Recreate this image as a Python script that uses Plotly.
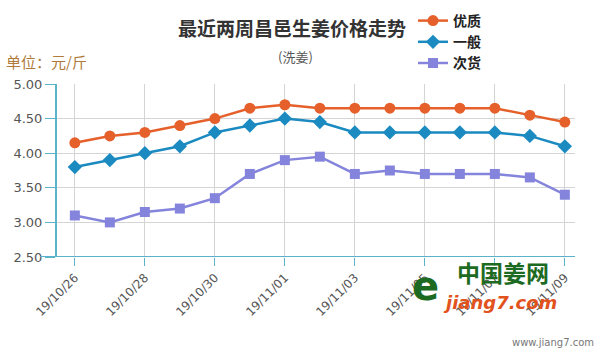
import plotly.graph_objects as go

dates = ["19/10/26", "19/10/27", "19/10/28", "19/10/29", "19/10/30", "19/10/31",
         "19/11/01", "19/11/02", "19/11/03", "19/11/04", "19/11/05", "19/11/06",
         "19/11/07", "19/11/08", "19/11/09"]
good = [4.15, 4.25, 4.30, 4.40, 4.50, 4.65, 4.70, 4.65, 4.65, 4.65, 4.65, 4.65, 4.65, 4.55, 4.45]
normal = [3.80, 3.90, 4.00, 4.10, 4.30, 4.40, 4.50, 4.45, 4.30, 4.30, 4.30, 4.30, 4.30, 4.25, 4.10]
poor = [3.10, 3.00, 3.15, 3.20, 3.35, 3.70, 3.90, 3.95, 3.70, 3.75, 3.70, 3.70, 3.70, 3.65, 3.40]
names = ["优质", "一般", "次货"]
yticks = [2.5, 3.0, 3.5, 4.0, 4.5, 5.0]

W, H = 601, 351
L, R, T, B = 57, 26, 84, 94
PW, PH = W - L - R, H - T - B


def px(xp):
    return (xp - L) / PW


def py(yp):
    return (H - B - yp) / PH


cjk = "Noto Sans CJK SC"
fig = go.Figure()
idx = list(range(len(dates)))
fig.add_trace(go.Scatter(x=idx, y=good, name=names[0], mode="lines+markers",
                         line=dict(color="#e5602b", width=2.5),
                         marker=dict(symbol="circle", size=11, color="#e5602b")))
fig.add_trace(go.Scatter(x=idx, y=normal, name=names[1], mode="lines+markers",
                         line=dict(color="#1a8ac0", width=2.5),
                         marker=dict(symbol="diamond", size=11, color="#1a8ac0")))
fig.add_trace(go.Scatter(x=idx, y=poor, name=names[2], mode="lines+markers",
                         line=dict(color="#8484dc", width=2.5),
                         marker=dict(symbol="square", size=10, color="#8484dc")))

fig.update_layout(
    width=W, height=H,
    margin=dict(l=L, r=R, t=T, b=B, autoexpand=False),
    paper_bgcolor="white", plot_bgcolor="white",
    showlegend=True,
    legend=dict(x=px(413), y=py(5), xref="paper", yref="paper",
                xanchor="left", yanchor="top",
                font=dict(family=cjk, size=14, color="#222", weight="bold"),
                itemwidth=30, tracegroupgap=0, bgcolor="rgba(0,0,0,0)"),
    font=dict(family="DejaVu Sans", color="#555"),
)
fig.update_xaxes(
    range=[-0.51, 14.29],
    tickmode="array", tickvals=idx[::2], ticktext=dates[::2],
    tickangle=-45, tickfont=dict(size=12, color="#555"),
    showgrid=True, gridcolor="#d4d4d4", gridwidth=1,
    showline=False, ticks="outside", ticklen=8, tickcolor="#5bb3c9",
    zeroline=False,
)
fig.update_yaxes(
    range=[2.5, 5.0], tickvals=yticks, ticktext=[f"{v:.2f}" for v in yticks],
    tickfont=dict(size=13, color="#555"),
    showgrid=True, gridcolor="#d4d4d4", gridwidth=1,
    showline=True, linecolor="#5bb3c9", linewidth=2,
    ticks="outside", ticklen=10, tickcolor="#5bb3c9",
    zeroline=False,
)
# x axis line extended to the left of the y axis
fig.add_shape(type="line", xref="paper", yref="y", x0=px(40), x1=1.0, y0=2.5, y1=2.5,
              line=dict(color="#5bb3c9", width=2))


def note(text, x, y, size, color, family=cjk, anchor="center"):
    fig.add_annotation(text=text, x=px(x), y=py(y), xref="paper", yref="paper",
                       xanchor=anchor, yanchor="middle", showarrow=False,
                       font=dict(family=family, size=size, color=color))


note("<b>最近两周昌邑生姜价格走势</b>", 292, 28, 19, "#333")
note("(洗姜)", 295, 57, 13, "#555")
note("单位：元/斤", 4, 62, 15, "#b07a3a", anchor="left")
note("<b>e</b>", 425, 286, 40, "#1d6b22", family="DejaVu Sans")
note("<b>中国姜网</b>", 503, 272, 23, "#1d6b22")
note("<b><i>jiang7.com</i></b>", 500, 302, 18, "#e2521d", family="DejaVu Sans")
note("www.jiang7.com", 596, 342, 10, "#777", family="DejaVu Sans", anchor="right")

fig.write_html("out.html")
